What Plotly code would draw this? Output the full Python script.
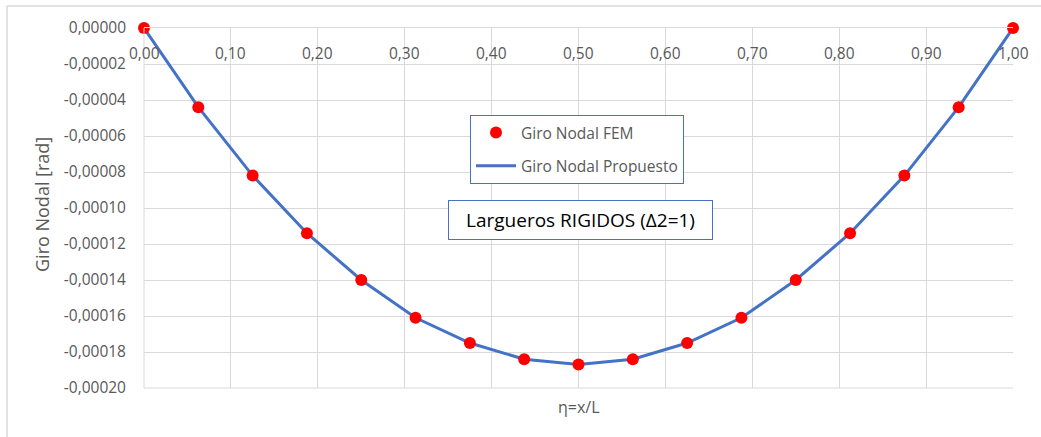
import plotly.graph_objects as go

# Node positions along the beam (eta = x/L) and nodal rotations [rad]
eta = [0.0, 0.0625, 0.125, 0.1875, 0.25, 0.3125, 0.375, 0.4375, 0.5,
       0.5625, 0.625, 0.6875, 0.75, 0.8125, 0.875, 0.9375, 1.0]
giro_fem = [0.0, -0.000044, -0.000082, -0.000114, -0.000140, -0.000161,
            -0.000175, -0.000184, -0.000187, -0.000184, -0.000175,
            -0.000161, -0.000140, -0.000114, -0.000082, -0.000044, 0.0]
giro_propuesto = [0.0, -0.000044, -0.000082, -0.000114, -0.000140, -0.000161,
                  -0.000175, -0.000184, -0.000187, -0.000184, -0.000175,
                  -0.000161, -0.000140, -0.000114, -0.000082, -0.000044, 0.0]

# Axis ticks
x_ticks = [0.0, 0.1, 0.2, 0.3, 0.4, 0.5, 0.6, 0.7, 0.8, 0.9, 1.0]
x_tick_labels = ["0,00", "0,10", "0,20", "0,30", "0,40", "0,50",
                 "0,60", "0,70", "0,80", "0,90", "1,00"]
y_ticks = [0.0, -0.00002, -0.00004, -0.00006, -0.00008, -0.00010,
           -0.00012, -0.00014, -0.00016, -0.00018, -0.00020]
y_tick_labels = ["0,00000", "-0,00002", "-0,00004", "-0,00006", "-0,00008",
                 "-0,00010", "-0,00012", "-0,00014", "-0,00016", "-0,00018",
                 "-0,00020"]

FONT = "Open Sans"
GRAY = "#595959"
GRID = "#d9d9d9"
BLUE = "#4472C4"

W, H = 1041, 437
L, R, T, B = 144, 28, 28, 49
PW, PH = W - L - R, H - T - B


def px(x):
    return (x - L) / PW


def py(y):
    return (H - B - y) / PH


fig = go.Figure()

fig.add_trace(go.Scatter(
    x=eta, y=giro_propuesto, mode="lines", name="Giro Nodal Propuesto",
    line=dict(color=BLUE, width=3), legendrank=2, legendgroup="b",
    cliponaxis=False,
))
fig.add_trace(go.Scatter(
    x=eta, y=giro_fem, mode="markers", name="Giro Nodal FEM",
    marker=dict(color="#ff0000", size=12), legendrank=1, legendgroup="a",
    cliponaxis=False,
))

# x tick labels sit just under the zero line at the top of the plot
annotations = [
    dict(text=t, xref="x", yref="paper", x=v, y=py(53), yanchor="middle",
         showarrow=False, font=dict(family=FONT, size=15.5, color=GRAY))
    for v, t in zip(x_ticks, x_tick_labels)
]
annotations += [
    dict(text="Giro Nodal [rad]", xref="paper", yref="paper",
         x=px(42), y=py(205), xanchor="center", yanchor="middle",
         textangle=-90, showarrow=False,
         font=dict(family=FONT, size=18, color=GRAY)),
    dict(text="η=x/L", xref="paper", yref="paper",
         x=0.5, y=py(407), xanchor="center", yanchor="middle",
         showarrow=False, font=dict(family=FONT, size=16, color=GRAY)),
    dict(text="Largueros RIGIDOS (Δ2=1)", xref="paper", yref="paper",
         x=px(580.5), y=py(220), xanchor="center", yanchor="middle",
         showarrow=False, width=257, height=32, bgcolor="white",
         bordercolor=BLUE, borderwidth=1, borderpad=3,
         font=dict(family=FONT, size=19, color="#000000")),
]

fig.update_layout(
    width=W, height=H,
    margin=dict(l=L, r=R, t=T, b=B),
    paper_bgcolor="white", plot_bgcolor="white",
    font=dict(family=FONT, size=15, color=GRAY),
    showlegend=True,
    legend=dict(
        x=px(470), y=py(115), xanchor="left", yanchor="top",
        bordercolor=BLUE, borderwidth=1, bgcolor="white",
        font=dict(family=FONT, size=15.5, color=GRAY),
        traceorder="grouped", tracegroupgap=10,
        itemwidth=40,
    ),
    xaxis=dict(
        range=[0, 1], tickvals=x_ticks, showticklabels=False,
        side="top",
        showgrid=True, gridcolor=GRID, gridwidth=1,
        showline=True, linecolor=GRID, linewidth=1, mirror=False,
        zeroline=False, ticks="",
    ),
    yaxis=dict(
        range=[-0.0002, 0], tickvals=y_ticks, ticktext=y_tick_labels,
        showgrid=True, gridcolor=GRID, gridwidth=1,
        showline=False, zeroline=False, ticks="",
        ticklabelstandoff=17,
        tickfont=dict(family=FONT, size=15.5, color=GRAY),
    ),
    shapes=[
        # bottom and left edges of the plotting area
        dict(type="line", xref="paper", yref="paper", x0=0, x1=1, y0=0, y1=0,
             line=dict(color=GRID, width=1)),
        dict(type="line", xref="paper", yref="paper", x0=0, x1=0, y0=0, y1=1,
             line=dict(color=GRID, width=1)),
        # chart frame
        dict(type="line", xref="paper", yref="paper",
             x0=px(7), x1=px(W + 5), y0=py(6), y1=py(6),
             line=dict(color=GRID, width=1.5)),
        dict(type="line", xref="paper", yref="paper",
             x0=px(7), x1=px(7), y0=py(6), y1=py(H + 5),
             line=dict(color=GRID, width=1.5)),
    ],
    annotations=annotations,
)

fig.write_html("out.html")
